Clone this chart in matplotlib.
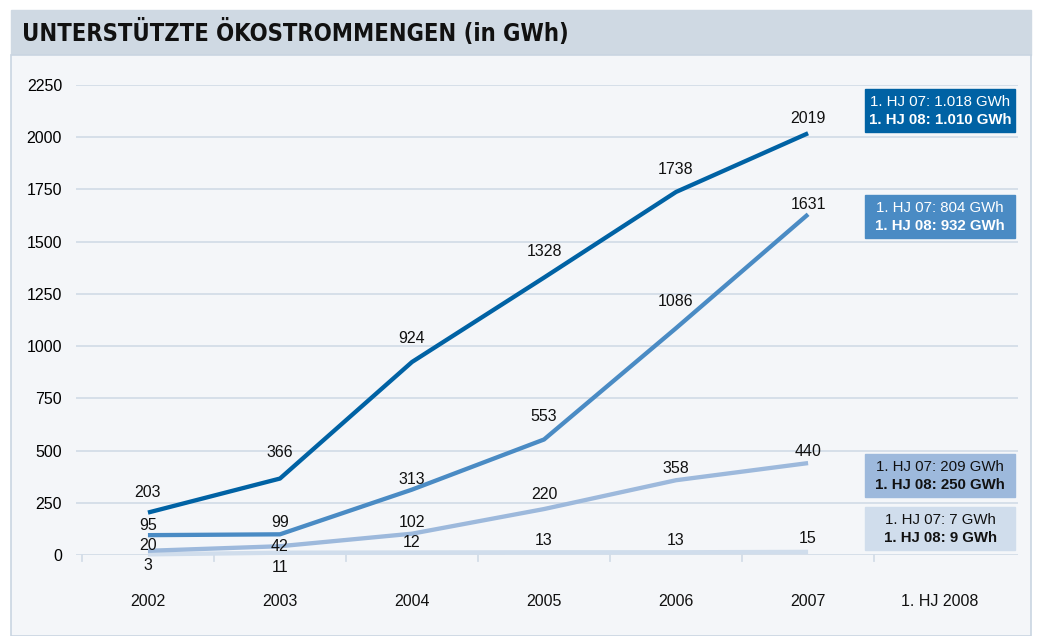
import matplotlib

matplotlib.use("Agg")
import matplotlib.pyplot as plt
from matplotlib.patches import Rectangle

plt.rcParams.update(
    {
        "font.family": ["Liberation Sans", "DejaVu Sans"],
        "font.size": 11,
    }
)

# data
categories = ["2002", "2003", "2004", "2005", "2006", "2007", "1. HJ 2008"]
series_a = [203, 366, 924, 1328, 1738, 2019]
series_b = [95, 99, 313, 553, 1086, 1631]
series_c = [20, 42, 102, 220, 358, 440]
series_d = [3, 11, 12, 13, 13, 15]
hj07 = ["1.018", "804", "209", "7"]
hj08 = ["1.010", "932", "250", "9"]

line_colors = ["#0062a4", "#4a8bc4", "#9db9dc", "#d0ddec"]
text_colors = ["white", "white", "#111111", "#111111"]
# label offsets above the point, in pixels
offsets = [
    [20, 26, 23, 26, 22, 15],
    [10, 12, 10, 23, 27, 10],
    [5, 0, 11, 15, 12, 12],
    [-11, -15, 10, 12, 12, 13],
]
W, H = 1037, 636


def fx(x):
    return x / W


def fy(y):
    return (H - y) / H


fig = plt.figure(figsize=(W / 100, H / 100), dpi=100)
fig.patch.set_facecolor("white")

# title bar and panel
fig.add_artist(Rectangle((fx(11), fy(55)), fx(1031) - fx(11), fy(10) - fy(55),
                         transform=fig.transFigure, color="#cfd9e3", zorder=0))
fig.add_artist(Rectangle((fx(11), fy(636)), fx(1031) - fx(11), fy(55) - fy(636),
                         transform=fig.transFigure, facecolor="#f4f6f9",
                         edgecolor="#c9d5e1", linewidth=1.2, zorder=0))
title = fig.text(fx(22), fy(32), "UNTERSTÜTZTE ÖKOSTROMMENGEN (in GWh)",
                 family="DejaVu Sans", fontstretch="condensed", fontweight="bold",
                 fontsize=20, va="center", ha="left", color="#111111")
# shrink the title to the reference width if no condensed face is found
renderer = fig.canvas.get_renderer()
tw = title.get_window_extent(renderer).width
if tw > 548:
    title.set_fontsize(20 * 545 / tw)

ax = fig.add_axes([fx(76), fy(555), fx(1018) - fx(76), fy(85) - fy(555)])
ax.set_facecolor("none")
ax.set_xlim(-0.545, 6.59)
ax.set_ylim(0, 2250)
for s in ax.spines.values():
    s.set_visible(False)

ax.set_yticks(range(0, 2251, 250))
for v in range(0, 2251, 250):
    ax.axhline(v, color="#d3dde8", lw=1.3, zorder=1)
ax.tick_params(axis="y", length=0, pad=10, labelsize=11.5)
ax.set_xticks([])

# small ticks on zero line at category boundaries
for b in range(len(categories)):
    ax.plot([b - 0.5, b - 0.5], [0, -28], color="#d3dde8", lw=1.3, clip_on=False)

for i, c in enumerate(categories):
    ax.text(i, -225, c, ha="center", va="center", fontsize=11.5, color="#111111")

x = list(range(len(series_a)))
all_series = [series_a, series_b, series_c, series_d]
for k in [3, 2, 1, 0]:
    ax.plot(x, all_series[k], color=line_colors[k], lw=3.1, solid_capstyle="butt",
            zorder=3 + (3 - k), clip_on=False)

for k, ser in enumerate(all_series):
    for i, v in enumerate(ser):
        off = offsets[k][i]
        ax.annotate(str(v), (i, v), xytext=(0, off * 0.72), textcoords="offset points",
                    ha="center", va="center", fontsize=11.5, color="#111111", zorder=10)

# boxes for 1. HJ 2008
box_tops = [89, 195, 454, 507]
for k in range(4):
    top = box_tops[k]
    fig.add_artist(Rectangle((fx(865), fy(top + 43)), fx(1015) - fx(865), fy(top) - fy(top + 43),
                             transform=fig.transFigure, color=line_colors[k], zorder=5))
    fig.text(fx(940), fy(top + 13), f"1. HJ 07: {hj07[k]} GWh", ha="center", va="center",
             fontsize=10.8, color=text_colors[k], zorder=6)
    fig.text(fx(940), fy(top + 31), f"1. HJ 08: {hj08[k]} GWh", ha="center", va="center",
             fontsize=10.8, fontweight="bold", color=text_colors[k], zorder=6)

fig.savefig("out.png", dpi=100)
